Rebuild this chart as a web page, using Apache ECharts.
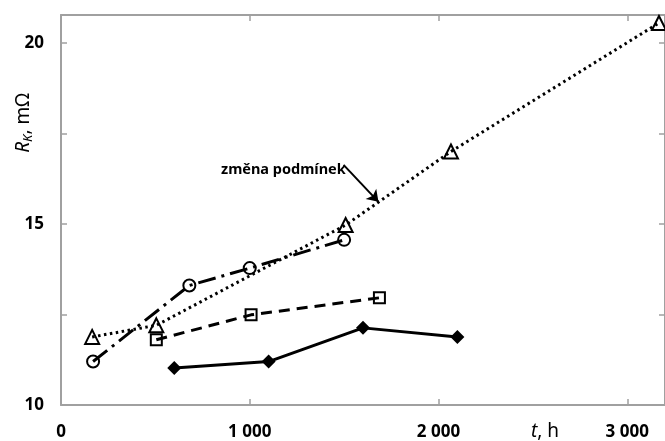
<!DOCTYPE html>
<html>
<head>
<meta charset="utf-8">
<script src="https://cdn.jsdelivr.net/npm/echarts@6/dist/echarts.min.js"></script>
<style>
  html, body { margin: 0; padding: 0; background: #fff; }
  #chart { width: 665px; height: 441px; }
</style>
</head>
<body>
<div id="chart"></div>
<script>
// time [h] and resistance [mOhm]
const circleT = [170, 680, 1000, 1500]
const circleR = [11.2, 13.3, 13.78, 14.56]
const triangleT = [165, 505, 1508, 2066, 3168]
const triangleR = [11.88, 12.2, 14.97, 17.0, 20.55]
const squareT = [505, 1007, 1687]
const squareR = [11.8, 12.49, 12.96]
const diamondT = [600, 1100, 1600, 2100]
const diamondR = [11.02, 11.2, 12.13, 11.88]

// arrow of the note "změna podmínek" (data coords)
const noteFrom = [1497, 16.63]
const noteTo = [1682, 15.61]

const xMin = 0, xMax = 3200, xStep = 1000
const yMin = 10, yMax = 20.77, yStep = 2.5

const font = '"Noto Sans", "DejaVu Sans", sans-serif'
const axisGray = '#a0a0a0'

function pairs(t, r) {
  return t.map((v, i) => [v, r[i]])
}

function fmtThousands(v) {
  if (v % 1000 !== 0) return ''
  if (v === 0) return '0'
  return (v / 1000) + ' 000'
}

const frameLine = { show: true, onZero: false, lineStyle: { color: axisGray, width: 2 } }
const frameTick = { show: true, inside: true, length: 6, lineStyle: { color: axisGray, width: 1.5 } }

const chart = echarts.init(document.getElementById('chart'))

const option = {
  animation: false,
  backgroundColor: '#fff',
  grid: { left: 61, top: 15, width: 607, height: 390, containLabel: false },
  xAxis: [
    {
      type: 'value', position: 'bottom', min: xMin, max: xMax, interval: xStep,
      axisLine: frameLine, axisTick: frameTick, splitLine: { show: false },
      axisLabel: {
        margin: 19, color: '#000', fontFamily: font, fontSize: 17, fontWeight: 'bold',
        formatter: fmtThousands, showMaxLabel: false
      }
    },
    {
      type: 'value', position: 'top', min: xMin, max: xMax, interval: xStep,
      axisLine: frameLine, axisTick: frameTick, splitLine: { show: false },
      axisLabel: { show: false }
    }
  ],
  yAxis: [
    {
      type: 'value', position: 'left', min: yMin, max: yMax, interval: yStep,
      axisLine: frameLine, axisTick: frameTick, splitLine: { show: false },
      axisLabel: {
        margin: 17, color: '#000', fontFamily: font, fontSize: 17, fontWeight: 'bold',
        formatter: (v) => (v % 5 === 0 ? String(v) : '')
      }
    },
    {
      type: 'value', position: 'right', min: yMin, max: yMax, interval: yStep,
      axisLine: frameLine, axisTick: frameTick, splitLine: { show: false },
      axisLabel: { show: false }
    }
  ],
  series: [
    {
      name: 'diamond', type: 'line', data: pairs(diamondT, diamondR),
      symbol: 'diamond', symbolSize: 14,
      itemStyle: { color: '#000' },
      lineStyle: { color: '#000', width: 3, type: 'solid' }
    },
    {
      name: 'square', type: 'line', data: pairs(squareT, squareR),
      symbol: 'rect', symbolSize: 11,
      itemStyle: { color: 'rgba(0,0,0,0)', borderColor: '#000', borderWidth: 2 },
      lineStyle: { color: '#000', width: 3, type: [11, 7] }
    },
    {
      name: 'circle', type: 'line', data: pairs(circleT, circleR),
      symbol: 'circle', symbolSize: 12,
      itemStyle: { color: 'rgba(0,0,0,0)', borderColor: '#000', borderWidth: 2 },
      lineStyle: { color: '#000', width: 3, type: [18, 6, 3, 6] }
    },
    {
      name: 'triangle', type: 'line', data: pairs(triangleT, triangleR),
      symbol: 'triangle', symbolSize: 14,
      itemStyle: { color: 'rgba(0,0,0,0)', borderColor: '#000', borderWidth: 2 },
      lineStyle: { color: '#000', width: 3, type: [2.5, 3.5] },
      markLine: {
        silent: true,
        symbol: ['none', 'arrow'],
        symbolSize: 11,
        label: { show: false },
        lineStyle: { color: '#000', width: 2, type: 'solid' },
        data: [[{ coord: noteFrom }, { coord: noteTo }]]
      }
    }
  ],
  graphic: [
    {
      type: 'text', x: 221, y: 170,
      style: {
        text: 'změna podmínek', fill: '#000',
        font: 'bold 14.5px ' + font, verticalAlign: 'middle'
      }
    },
    {
      type: 'text', x: 545, y: 432,
      style: {
        text: '{i|t}{n|, h}', align: 'center', verticalAlign: 'middle',
        rich: {
          i: { fontFamily: font, fontSize: 19, fontStyle: 'italic', fill: '#000' },
          n: { fontFamily: font, fontSize: 19, fill: '#000' }
        }
      }
    },
    {
      type: 'text', x: 24, y: 123, rotation: Math.PI / 2,
      style: {
        text: '{i|R}{s|K}{n|, mΩ}', align: 'center', verticalAlign: 'middle',
        rich: {
          i: { fontFamily: font, fontSize: 19, fontStyle: 'italic', fill: '#000' },
          s: { fontFamily: font, fontSize: 13, fontStyle: 'italic', fill: '#000', padding: [9, 0, 0, 0] },
          n: { fontFamily: font, fontSize: 19, fill: '#000' }
        }
      }
    }
  ]
}

chart.setOption(option)
</script>
</body>
</html>
